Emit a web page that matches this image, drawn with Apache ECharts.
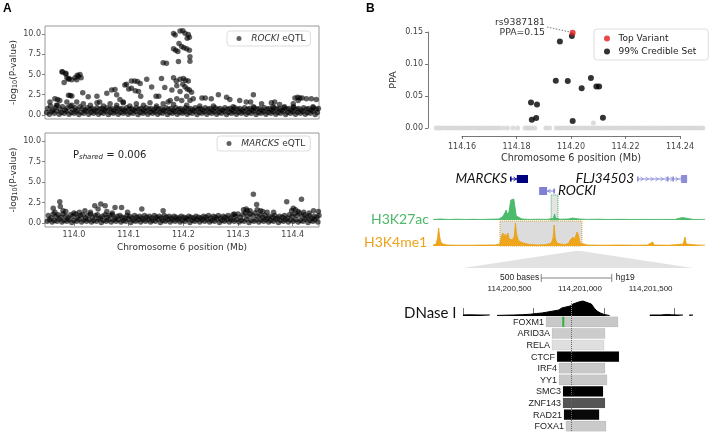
<!DOCTYPE html>
<html><head><meta charset="utf-8">
<script src="https://cdn.jsdelivr.net/npm/echarts@6/dist/echarts.min.js"></script>
<style>html,body{margin:0;padding:0;background:#fff}#c{width:709px;height:432px}</style>
</head><body><div id="c"></div>
<script>
// ================= DATA =================
// Panel A : eQTL scans, [kb offset from 113.950 Mb, -log10(P)]
const eqtlTicks = [0, 2.5, 5, 7.5, 10];
const posTicksA = [114.0, 114.1, 114.2, 114.3, 114.4];
const rockiLow = [[0,.3],[5,.1],[9,.4],[14,.2],[18,.5],[23,.1],[27,.3],[32,.2],[36,.45],[41,.1],[45,.3],[50,.2],[54,.4],[59,.05],[63,.3],[68,.2],[72,.45],[77,.1],[81,.35],[86,.2],[90,.4],[95,.1],[99,.3],[104,.2],[108,.45],[113,.05],[117,.3],[122,.2],[126,.4],[131,.1],[135,.35],[140,.2],[144,.4],[149,.1],[153,.3],[158,.2],[162,.45],[167,.05],[171,.3],[176,.2],[180,.4],[185,.1],[189,.35],[194,.2],[198,.4],[203,.1],[207,.3],[212,.2],[216,.45],[221,.05],[225,.3],[230,.2],[234,.4],[239,.1],[243,.35],[248,.2],[252,.4],[257,.1],[261,.3],[266,.2],[270,.45],[275,.05],[279,.3],[284,.2],[288,.4],[293,.1],[297,.35],[302,.2],[306,.4],[311,.1],[315,.3],[320,.2],[324,.45],[329,.05],[333,.3],[338,.2],[342,.4],[347,.1],[351,.35],[356,.2],[360,.4],[365,.1],[369,.3],[374,.2],[378,.45],[383,.05],[387,.3],[392,.2],[396,.4],[401,.1],[405,.35],[410,.2],[414,.4],[419,.1],[423,.3],[428,.2],[432,.45],[437,.05],[441,.3],[446,.2],[450,.4],[455,.1],[459,.35],[464,.2],[468,.4],[473,.1],[477,.3],[482,.2],[486,.45],[491,.05],[495,.3],[500,.2]];
const rockiMid = [[2,.8],[7,1.1],[11,.6],[16,.9],[20,1.2],[25,.7],[29,1.0],[34,.6],[38,.9],[43,1.1],[47,.7],[52,.9],[56,.6],[61,1.0],[65,.8],[70,.6],[74,.9],[79,.7],[83,.8],[88,.6],[92,.9],[97,.7],[101,.8],[106,.6],[110,.9],[115,.7],[119,.8],[124,.6],[128,.9],[133,.7],[137,.8],[142,.6],[146,.9],[151,.7],[155,.8],[160,.6],[164,.9],[169,.7],[173,.8],[178,.6],[182,.9],[187,.7],[191,.8],[196,.6],[200,.9],[205,.7],[209,.8],[214,.6],[218,.9],[223,.7],[227,.8],[232,.6],[236,.9],[241,.7],[245,.8],[250,.6],[254,.9],[259,.7],[263,.8],[268,.6],[272,.9],[277,.7],[281,.8],[286,.6],[290,.9],[295,.7],[299,.8],[304,.6],[308,.9],[313,.7],[317,.8],[322,.6],[326,.9],[331,.7],[335,.8],[340,.6],[344,.9],[349,.7],[353,.8],[358,.6],[362,.9],[367,.7],[371,.8],[376,.6],[380,.9],[385,.7],[389,.8],[394,.6],[398,.9],[403,.7],[407,.8],[412,.6],[416,.9],[421,.7],[425,.8],[430,.6],[434,.9],[439,.7],[443,.8],[448,.6],[452,.9],[457,.7],[461,.8],[466,.6],[470,.9],[475,.7],[479,.8],[484,.6],[488,.9],[493,.7],[497,.8]];
const rockiHigh = [[28,5.35],[35,5.15],[32,4.0],[37,4.6],[41,4.5],[52,4.6],[56,4.9],[61,5.0],[63,4.6],[29,5.3],[35,5.05],[40,4.4],[46,4.35],[55,4.35],[58,4.8],[40,2.45],[46,2.35],[43,2.4],[66,2.75],[15,2.0],[20,1.9],
[76,2.26],[92,2.3],[110,2.67],[119,3.08],[125,3.16],[128,2.5],[143,3.7],[146,3.8],[155,4.2],[161,4.2],[166,4.15],[171,3.9],[150,3.2],[155,3.3],[162,3.0],[168,2.9],[183,4.4],[192,3.45],[172,2.3],[134,1.9],[140,1.5],[97,1.6],
[210,4.5],[213,6.45],[219,6.4],[205,2.3],[200,2.3],[216,3.4],
[232,10.08],[235,9.9],[244,10.37],[249,10.4],[253,10.1],[259,9.95],[257,9.5],[261,9.6],
[232,8.2],[236,8.0],[240,7.85],[242,8.85],[247,8.45],[251,8.3],[256,8.2],[261,8.0],[262,7.2],[262,6.65],[241,6.6],
[232,4.6],[237,4.2],[244,4.4],[250,4.5],[254,4.3],[259,4.2],[249,3.8],[253,3.5],[257,3.2],[261,3.1],[265,2.8],[238,3.6],[229,3.1],[244,2.9],[226,1.8],[238,2.0],[247,1.8],[256,2.3],[262,1.8],[268,2.0],
[284,2.1],[290,2.1],[301,2.0],[314,2.5],[329,2.2],[335,1.9],[353,1.8],[365,1.6],[378,2.5],[373,1.6],[393,1.4],[411,1.5],[417,1.6],[426,1.3],[435,1.0],[454,2.1],[459,2.2],[463,2.1],[467,2.1],[475,2.0],[484,2.0],[493,1.9],[460,1.8],[451,1.4],
[6,1.6],[18,1.2],[24,1.8],[37,1.6],[46,1.2],[55,1.6],[67,1.4],[80,1.2],[92,1.5],[104,1.1],[116,1.4],[128,1.2],[140,1.6],[152,1.1],[164,1.4],[177,1.2],[189,1.5],[201,1.1],[213,1.4],[222,1.6],[232,1.3],[256,1.2],[280,1.1],[305,1.1],[341,1.0],[378,1.0],[414,1.0],[451,1.0],[487,1.0]];
const marcksLow = [[1,.2],[5,.4],[10,.1],[14,.3],[19,.2],[23,.45],[28,.1],[32,.3],[37,.2],[41,.4],[46,.05],[50,.3],[55,.2],[59,.45],[64,.1],[68,.35],[73,.2],[77,.4],[82,.1],[86,.3],[91,.2],[95,.45],[100,.05],[104,.3],[109,.2],[113,.4],[118,.1],[122,.35],[127,.2],[131,.4],[136,.1],[140,.3],[145,.2],[149,.45],[154,.05],[158,.3],[163,.2],[167,.4],[172,.1],[176,.35],[181,.2],[185,.4],[190,.1],[194,.3],[199,.2],[203,.45],[208,.05],[212,.3],[217,.2],[221,.4],[226,.1],[230,.35],[235,.2],[239,.4],[244,.1],[248,.3],[253,.2],[257,.45],[262,.05],[266,.3],[271,.2],[275,.4],[280,.1],[284,.35],[289,.2],[293,.4],[298,.1],[302,.3],[307,.2],[311,.45],[316,.05],[320,.3],[325,.2],[329,.4],[334,.1],[338,.35],[343,.2],[347,.4],[352,.1],[356,.3],[361,.2],[365,.45],[370,.05],[374,.3],[379,.2],[383,.4],[388,.1],[392,.35],[397,.2],[401,.4],[406,.1],[410,.3],[415,.2],[419,.45],[424,.05],[428,.3],[433,.2],[437,.4],[442,.1],[446,.35],[451,.2],[455,.4],[460,.1],[464,.3],[469,.2],[473,.45],[478,.05],[482,.3],[487,.2],[491,.4],[496,.1],[500,.3]];
const marcksMid = [[3,.9],[8,.6],[12,1.1],[17,.8],[21,1.0],[26,.7],[30,1.1],[35,.8],[39,.6],[44,1.0],[48,.8],[53,1.1],[57,.7],[62,.9],[66,1.0],[71,.6],[75,.9],[80,1.1],[84,.7],[89,.9],[93,1.0],[98,.6],[102,.8],[107,1.0],[111,.7],[116,.9],[120,1.0],[125,.6],[129,.8],[134,.9],[138,.7],[143,.6],[147,.9],[152,.8],[156,.6],[161,.9],[165,.7],[170,.8],[174,.6],[179,.9],[183,.7],[188,.8],[192,.6],[197,.9],[201,.7],[206,.8],[210,.6],[215,.9],[219,.7],[224,.8],[228,.6],[233,.8],[237,.7],[242,.6],[246,.8],[251,.7],[255,.6],[260,.8],[264,.7],[269,.6],[273,.8],[278,.7],[282,.6],[287,.8],[291,.7],[296,.9],[300,.6],[305,.8],[309,.7],[314,.9],[318,.6],[323,.8],[327,.7],[332,.9],[336,.6],[341,1.0],[345,.8],[350,1.1],[354,.7],[359,1.0],[363,1.2],[368,.8],[372,1.1],[377,.9],[381,1.2],[386,.8],[390,1.0],[395,.7],[399,.9],[404,.6],[408,.8],[413,.7],[417,.9],[422,.6],[426,.8],[431,.7],[435,.9],[440,.6],[444,1.0],[449,.8],[453,1.1],[458,.9],[462,1.2],[467,.8],[471,1.0],[476,.7],[480,.9],[485,.6],[489,.8],[494,.7],[498,.9]];
const marcksHigh = [[12,1.8],[24,2.6],[25,2.0],[30,1.5],[88,2.1],[99,2.3],[107,2.1],[94,1.7],[125,1.9],[137,1.9],[148,1.3],[174,1.7],[213,1.5],[378,3.5],[384,2.25],[439,2.6],[466,2.9],[451,1.8],[448,1.5],[367,1.5],[391,1.5],[403,1.3],[343,1.1],[415,1.3],[488,1.5],[497,1.4],[360,1.6],[365,1.7],[372,1.5],[385,1.6],[395,1.4],[15,1.3],[35,1.4],[50,1.2],[60,1.3],[70,1.5],[80,1.3],[110,1.4],[120,1.2],[455,1.6],[460,1.4],[470,1.3],[480,1.2]];
const pShared = '0.006';

// Panel B : fine-mapping, [Mb, PPA]
const ppaTicks = [0, 0.05, 0.10, 0.15];
const posTicksB = [114.16, 114.18, 114.20, 114.22, 114.24];
const topVariant = [[114.2006, 0.149]];
const topVariantName = 'rs9387181';
const credibleSet = [[114.2003,0.1438],[114.1959,0.135],[114.1944,0.074],[114.1988,0.0734],[114.2073,0.078],[114.2039,0.062],[114.2093,0.065],[114.2103,0.065],[114.1853,0.0397],[114.1875,0.0366],[114.1856,0.013],[114.1872,0.0157],[114.2006,0.011],[114.2117,0.0162]];
const otherVariantPos = [114.1505,114.1516,114.1526,114.1538,114.1549,114.1559,114.1571,114.1582,114.1592,114.1604,114.1615,114.1626,114.1636,114.1648,114.1659,114.1669,114.1681,114.1692,114.1703,114.1714,114.1725,114.1737,114.1752,114.1767,114.1787,114.1804,114.1831,114.1840,114.1849,114.1858,114.1867,114.1908,114.1921,114.1946,114.1957,114.1967,114.1979,114.1990,114.2001,114.2012,114.2022,114.2034,114.2045,114.2056,114.2066,114.2078,114.2089,114.2100,114.2110,114.2122,114.2133,114.2144,114.2154,114.2166,114.2177,114.2188,114.2198,114.2210,114.2221,114.2232,114.2242,114.2253,114.2264,114.2275,114.2286,114.2297,114.2308,114.2319,114.2330,114.2341,114.2352,114.2362,114.2374,114.2384,114.2395,114.2406,114.2417,114.2428,114.2439,114.2450,114.2461,114.2472,114.2484];
const otherVariantPPA = [[114.2082, 0.0078]];

// Genes (Mb)
const geneNames  = ['MARCKS', 'FLJ34503', 'ROCKI'];
const geneStart  = [114.1776, 114.2242, 114.1883];
const geneEnd    = [114.1842, 114.2426, 114.1941];
const geneRow    = [0, 0, 1];
const geneStrand = ['+', '+', '-'];
const geneExons  = [ // [start, end, coding]
  [[114.1776,114.1781,0],[114.1801,114.1842,1]],
  [[114.2242,114.2245,0],[114.2352,114.2355,0],[114.2372,114.2375,0],[114.2404,114.2426,1]],
  [[114.1883,114.1912,1],[114.1935,114.1938,0]]
];
// Histone tracks [Mb, signal]
const h3k27ac = [[114.1494,0.5],[114.152,1],[114.155,0.5],[114.158,0.8],[114.161,0.5],[114.164,0.7],[114.167,0.5],[114.170,0.8],[114.1735,1],[114.1748,3],[114.1755,6],[114.1762,10],[114.1768,5],[114.1772,8],[114.1776,6],[114.1779,20],[114.1784,22],[114.1790,21],[114.1796,22],[114.1799,4],[114.1805,2],[114.182,1],[114.185,0.6],[114.188,0.8],[114.191,0.6],[114.1935,1.5],[114.1940,6],[114.1943,2],[114.196,0.8],[114.199,1],[114.2005,2],[114.2015,1.5],[114.203,1],[114.206,0.6],[114.210,0.8],[114.214,0.5],[114.218,0.7],[114.222,0.5],[114.226,0.6],[114.230,0.5],[114.234,0.6],[114.238,0.5],[114.2408,2.5],[114.2412,0.6],[114.245,0.5],[114.2492,0.6]];
const h3k4me1 = [[114.1494,1],[114.1505,2],[114.1510,8],[114.1514,18],[114.1518,9],[114.1522,4],[114.1530,2],[114.1545,1],[114.158,0.8],[114.163,0.8],[114.168,1],[114.172,1],[114.1739,2],[114.1745,10],[114.1750,13],[114.1754,8],[114.1758,12],[114.1763,9],[114.1768,13],[114.1773,7],[114.1778,9],[114.1785,6],[114.1792,10],[114.1796,23],[114.1800,12],[114.1806,6],[114.1815,4],[114.1830,2.5],[114.1850,1.5],[114.1880,1],[114.1910,1.5],[114.1928,3],[114.1934,8],[114.1938,21],[114.1942,8],[114.1948,3],[114.1960,2],[114.1980,1.5],[114.1992,3],[114.1997,6],[114.2002,4],[114.2007,9],[114.2012,6],[114.2017,10],[114.2022,14],[114.2027,11],[114.2033,3],[114.2040,1.5],[114.206,1],[114.212,0.8],[114.218,1],[114.224,0.8],[114.228,1],[114.2300,4],[114.2305,1],[114.236,0.8],[114.2412,2],[114.2418,9],[114.2423,2],[114.2460,1],[114.2492,0.8]];
const enhancerRegion = [114.1739, 114.2040];
const rockiPromoter = [114.1927, 114.1952];

// Zoomed region (chr6 bases)
const zoomStart = 114200000, zoomEnd = 114201631;
const zoomTicks = [114200000, 114200500, 114201000, 114201500];
const zoomLabels = [114200500, 114201000, 114201500];
const variantBase = 114200766;
const dnase = [[114200000,1],[114200040,1.2],[114200120,1],[114200190,1],[114200191,'-'],[114200240,'-'],[114200241,0.6],[114200300,0.8],[114200360,1],[114200420,1.3],[114200480,1.8],[114200520,2.5],[114200560,3],[114200600,4],[114200640,5],[114200680,6],[114200700,8],[114200730,9],[114200760,10],[114200780,12],[114200800,13],[114200820,14],[114200850,15],[114200870,14],[114200890,13],[114200910,12],[114200930,8],[114200950,5],[114200975,3],[114201000,1.5],[114201040,0.5],[114201041,'-'],[114201320,'-'],[114201325,1],[114201400,1],[114201450,1.5],[114201480,1.2],[114201520,1],[114201560,1],[114201561,'-'],[114201600,'-'],[114201605,1],[114201631,1]];
const tfNames = ['FOXM1','ARID3A','RELA','CTCF','IRF4','YY1','SMC3','ZNF143','RAD21','FOXA1'];
const tfStart = [114200589,114200631,114200631,114200667,114200681,114200681,114200709,114200709,114200716,114200730];
const tfEnd   = [114201099,114201007,114201000,114201106,114201007,114201021,114200993,114201007,114200965,114201014];
const tfScore = [150,130,50,1000,150,150,1000,640,960,140];
const foxm1Motif = [114200704, 114200718];

// ================= CHART =================
const F = 'DejaVu Sans';
const U = 'Lato';
const chart = echarts.init(document.getElementById('c'));
const toA = p => [113.95 + p[0] / 1000, p[1]];
const rockiData = rockiLow.concat(rockiMid, rockiHigh).map(toA);
const marcksData = marcksLow.concat(marcksMid, marcksHigh).map(toA);
const otherData = otherVariantPos.map(x => [x, 0]).concat(otherVariantPPA);

const GENE_COL = ['#00007f', '#8c8cd8', '#7f7fd4'];
const GENE_LABEL_SIDE = ['left', 'left', 'right'];

function renderGene(params, api) {
  const i = params.dataIndex;
  const yc = api.coord([geneStart[i], geneRow[i] + 0.5])[1];
  const xs = api.coord([geneStart[i], 0])[0], xe = api.coord([geneEnd[i], 0])[0];
  const col = GENE_COL[i];
  const ch = [{type: 'line', shape: {x1: xs, y1: yc, x2: xe, y2: yc}, style: {stroke: col, lineWidth: 1}}];
  const d = geneStrand[i] === '+' ? 1 : -1;
  for (let x = xs + 5; x < xe - 3; x += 5) {
    ch.push({type: 'polyline', shape: {points: [[x - 1.5 * d, yc - 2], [x + 1.5 * d, yc], [x - 1.5 * d, yc + 2]]}, style: {stroke: col, fill: null, lineWidth: 0.8}});
  }
  geneExons[i].forEach(e => {
    const a = api.coord([e[0], 0])[0], b = api.coord([e[1], 0])[0];
    const h = e[2] ? 8 : 5;
    ch.push({type: 'rect', shape: {x: a, y: yc - h / 2, width: Math.max(1.6, b - a), height: h}, style: {fill: col}});
  });
  const left = GENE_LABEL_SIDE[i] === 'left';
  ch.push({type: 'text', style: {text: geneNames[i], x: left ? xs - 3 : xe + 3, y: yc, align: left ? 'right' : 'left', verticalAlign: 'middle', fontFamily: U, fontStyle: 'italic', fontSize: 13.5, fill: '#111'}});
  return {type: 'group', children: ch};
}

function renderTF(params, api) {
  const i = params.dataIndex;
  const p0 = api.coord([tfStart[i], i + 0.5]);
  const p1 = api.coord([tfEnd[i], i + 0.5]);
  const h = Math.abs(api.size([0, 1])[1]) * 0.88;
  const g = Math.round(235 * (1 - tfScore[i] / 1000));
  const ch = [
    {type: 'rect', shape: {x: p0[0], y: p0[1] - h / 2, width: p1[0] - p0[0], height: h}, style: {fill: 'rgb(' + g + ',' + g + ',' + g + ')', stroke: 'rgba(0,0,0,0.12)', lineWidth: 0.5}},
    {type: 'text', style: {text: tfNames[i], x: p0[0] - 2, y: p0[1] + 0.5, align: 'right', verticalAlign: 'middle', fontFamily: 'Liberation Sans', fontSize: 9, fill: '#222'}}
  ];
  if (i === 0) {
    const m0 = api.coord([foxm1Motif[0], 0.5])[0], m1 = api.coord([foxm1Motif[1], 0.5])[0];
    ch.push({type: 'rect', shape: {x: m0, y: p0[1] - h / 2, width: Math.max(2, m1 - m0), height: h}, style: {fill: '#2fb040'}});
  }
  return {type: 'group', children: ch};
}

const tickStyleA = {color: '#666', width: 0.8};
const yA = (gi) => ({gridIndex: gi, type: 'value', min: -0.5, max: 11,
  axisLine: {show: false}, splitLine: {show: false},
  axisTick: {show: true, length: 3, customValues: eqtlTicks, lineStyle: tickStyleA},
  axisLabel: {customValues: eqtlTicks, formatter: v => v.toFixed(1), fontSize: 8, color: '#444', margin: 4, fontFamily: F},
  name: '{n|-log}{s|10}{n|(P-value)}', nameLocation: 'middle', nameRotate: 90, nameGap: 25,
  nameTextStyle: {rich: {n: {fontSize: 9, fontFamily: F, color: '#333'}, s: {fontSize: 6.5, fontFamily: F, color: '#333', padding: [4, 0, 0, 0]}}}
});
const hidX = (gi, min, max) => ({gridIndex: gi, type: 'value', min: min, max: max, show: false});
const hidYv = (gi, min, max, inv) => ({gridIndex: gi, type: 'value', min: min, max: max, show: false, inverse: !!inv});
const legendA = (left, top, name) => ({left: left, top: top, data: [name], icon: 'circle', itemWidth: 14.5, itemHeight: 5, padding: [3, 5, 3, 9.5],
  borderColor: '#ddd', borderWidth: 1, borderRadius: 3, backgroundColor: '#fff', selectedMode: false,
  formatter: n => '{i|' + n.split(' ')[0] + '} eQTL',
  textStyle: {fontSize: 9, color: '#333', fontFamily: F, rich: {i: {fontSize: 9, fontStyle: 'italic', color: '#333', fontFamily: F}}}});

chart.setOption({
  animation: false,
  backgroundColor: '#fff',
  grid: [
    {left: 45, top: 26, width: 274, height: 93, show: true, borderColor: '#999', borderWidth: 1},
    {left: 45, top: 133, width: 274, height: 94, show: true, borderColor: '#999', borderWidth: 1},
    {left: 428, top: 32, width: 279, height: 96},
    {left: 462, top: 135, width: 218, height: 1},
    {left: 428, top: 173, width: 279, height: 24},
    {left: 428, top: 195, width: 279, height: 25},
    {left: 428, top: 221, width: 279, height: 25},
    {left: 463, top: 293, width: 230, height: 23},
    {left: 463, top: 316, width: 230, height: 116}
  ],
  xAxis: [
    hidX(0, 113.947, 114.448),
    {gridIndex: 1, type: 'value', min: 113.947, max: 114.448, axisLine: {show: false}, splitLine: {show: false},
      axisTick: {show: true, length: 3, customValues: posTicksA, lineStyle: tickStyleA},
      axisLabel: {customValues: posTicksA, formatter: v => v.toFixed(1), fontSize: 8, color: '#444', margin: 4, fontFamily: F},
      name: 'Chromosome 6 position (Mb)', nameLocation: 'middle', nameGap: 16, nameTextStyle: {fontSize: 9, color: '#333', fontFamily: F}},
    hidX(2, 114.1475, 114.2499),
    {gridIndex: 3, type: 'value', min: 114.16, max: 114.24, axisLine: {show: true, lineStyle: {color: '#555', width: 0.8}}, splitLine: {show: false},
      axisTick: {show: true, length: 3, customValues: posTicksB, lineStyle: {color: '#555', width: 0.8}},
      axisLabel: {customValues: posTicksB, formatter: v => v.toFixed(2), fontSize: 8, color: '#444', margin: 7, fontFamily: F},
      name: 'Chromosome 6 position (Mb)', nameLocation: 'middle', nameGap: 17, nameTextStyle: {fontSize: 9.7, color: '#333', fontFamily: F}},
    hidX(4, 114.1475, 114.2499),
    hidX(5, 114.1475, 114.2499),
    hidX(6, 114.1475, 114.2499),
    {gridIndex: 7, type: 'value', position: 'top', min: zoomStart, max: zoomEnd, axisLine: {show: false}, splitLine: {show: false},
      axisTick: {show: true, inside: false, length: 8, customValues: zoomTicks, lineStyle: {color: '#555', width: 0.8}},
      axisLabel: {customValues: zoomLabels, formatter: v => v.toLocaleString('en-US'), align: 'right', verticalAlign: 'bottom', padding: [0, 2, 0, 0], margin: 0, fontSize: 8, color: '#222', fontFamily: 'Liberation Sans'}},
    hidX(8, zoomStart, zoomEnd)
  ],
  yAxis: [
    yA(0), yA(1),
    {gridIndex: 2, type: 'value', min: 0, max: 0.15, axisLine: {show: true, lineStyle: {color: '#555', width: 0.8}}, splitLine: {show: false},
      axisTick: {show: true, length: 3, customValues: ppaTicks, lineStyle: {color: '#555', width: 0.8}},
      axisLabel: {customValues: ppaTicks, formatter: v => v.toFixed(2), fontSize: 8, color: '#444', margin: 5, fontFamily: F},
      name: 'PPA', nameLocation: 'middle', nameRotate: 90, nameGap: 29, nameTextStyle: {fontSize: 9.5, color: '#333', fontFamily: F}},
    hidYv(3, 0, 1),
    hidYv(4, 0, 2, true),
    hidYv(5, 0, 25),
    hidYv(6, 0, 25),
    hidYv(7, 0, 23),
    hidYv(8, 0, 10, true)
  ],
  legend: [
    legendA(227, 31, 'ROCKI eQTL'),
    legendA(217, 136, 'MARCKS eQTL'),
    {left: 594, top: 29, orient: 'vertical', data: ['Top Variant', '99% Credible Set'], icon: 'circle', itemWidth: 13, itemHeight: 6, itemGap: 2,
      padding: [4, 12, 3, 10], borderColor: '#ddd', borderWidth: 1, borderRadius: 3, backgroundColor: '#fff', selectedMode: false,
      textStyle: {fontSize: 9, color: '#222', fontFamily: F, lineHeight: 11}}
  ],
  series: [
    {name: 'ROCKI eQTL', type: 'scatter', xAxisIndex: 0, yAxisIndex: 0, data: rockiData, symbolSize: 5.5, itemStyle: {color: 'rgba(0,0,0,0.78)'}},
    {name: 'MARCKS eQTL', type: 'scatter', xAxisIndex: 1, yAxisIndex: 1, data: marcksData, symbolSize: 5.5, itemStyle: {color: 'rgba(0,0,0,0.78)'}},
    {name: 'other', type: 'scatter', xAxisIndex: 2, yAxisIndex: 2, data: otherData, symbolSize: 5, clip: false, itemStyle: {color: '#d3d3d3'}, z: 1},
    {name: '99% Credible Set', type: 'scatter', xAxisIndex: 2, yAxisIndex: 2, data: credibleSet, symbolSize: 6, clip: false, itemStyle: {color: '#000'}, z: 3},
    {name: 'Top Variant', type: 'scatter', xAxisIndex: 2, yAxisIndex: 2, data: topVariant, symbolSize: 6, clip: false, itemStyle: {color: '#e41a1c'}, z: 4},
    {name: 'genes', type: 'custom', xAxisIndex: 4, yAxisIndex: 4, renderItem: renderGene, clip: false,
      data: geneNames.map((n, i) => [geneStart[i], geneRow[i] + 0.5])},
    {name: 'promoterBox', type: 'line', xAxisIndex: 5, yAxisIndex: 5, data: [], z: 1,
      markArea: {silent: true, itemStyle: {color: '#e4e4e4', borderColor: '#3db060', borderType: 'dotted', borderWidth: 1},
        data: [[{xAxis: rockiPromoter[0], yAxis: 0}, {xAxis: rockiPromoter[1], yAxis: 25}]]}},
    {name: 'H3K27ac', type: 'line', xAxisIndex: 5, yAxisIndex: 5, data: h3k27ac, symbol: 'none', z: 2,
      lineStyle: {color: '#3fb565', width: 0.8}, areaStyle: {color: '#4cbb6c', opacity: 1}},
    {name: 'enhancerBox', type: 'line', xAxisIndex: 6, yAxisIndex: 6, data: [], z: 1,
      markArea: {silent: true, itemStyle: {color: '#dcdcdc', borderColor: '#e0a030', borderType: 'dotted', borderWidth: 1},
        data: [[{xAxis: enhancerRegion[0], yAxis: 0}, {xAxis: enhancerRegion[1], yAxis: 25}]]}},
    {name: 'H3K4me1', type: 'line', xAxisIndex: 6, yAxisIndex: 6, data: h3k4me1, symbol: 'none', z: 2,
      lineStyle: {color: '#e8a010', width: 0.8}, areaStyle: {color: '#efa51c', opacity: 1}},
    {name: 'DNase I', type: 'line', xAxisIndex: 7, yAxisIndex: 7, data: dnase, symbol: 'none', connectNulls: false,
      lineStyle: {color: '#000', width: 1}, areaStyle: {color: '#000', opacity: 1},
      markLine: {silent: true, symbol: 'none', label: {show: false}, lineStyle: {type: 'dotted', color: '#999', width: 1},
        data: [[{coord: [variantBase, 0]}, {coord: [variantBase, 15]}]]}},
    {name: 'TF', type: 'custom', xAxisIndex: 8, yAxisIndex: 8, renderItem: renderTF, clip: false,
      data: tfNames.map((n, i) => [tfStart[i], i + 0.5])},
    {name: 'variantLine', type: 'line', xAxisIndex: 8, yAxisIndex: 8, data: [], z: 5,
      markLine: {silent: true, symbol: 'none', label: {show: false}, lineStyle: {type: 'dotted', color: '#666', width: 1},
        data: [[{coord: [variantBase, 0]}, {coord: [variantBase, 10]}]]}}
  ]
});

// decorations that depend on pixel positions
const sb0 = chart.convertToPixel({xAxisIndex: 7}, 114200555);
const sb1 = chart.convertToPixel({xAxisIndex: 7}, 114200555 + 500);
const tv = chart.convertToPixel({xAxisIndex: 2, yAxisIndex: 2}, topVariant[0]);
chart.setOption({
  graphic: [
    {type: 'text', left: 3, top: 3, style: {text: 'A', fontFamily: 'Liberation Sans', fontWeight: 'bold', fontSize: 12, fill: '#000'}},
    {type: 'text', left: 366, top: 3, style: {text: 'B', fontFamily: 'Liberation Sans', fontWeight: 'bold', fontSize: 12, fill: '#000'}},
    {type: 'text', x: 73, y: 155, style: {text: '{n|P}{s|shared}{n| = ' + pShared + '}', verticalAlign: 'middle',
      rich: {n: {fontSize: 10, fontFamily: F, fill: '#222'}, s: {fontSize: 7, fontStyle: 'italic', fontFamily: F, fill: '#222', padding: [5, 0, 0, 0]}}}},
    {type: 'text', x: 545, y: 23, style: {text: topVariantName, align: 'right', verticalAlign: 'middle', fontSize: 9.3, fontFamily: F, fill: '#333'}},
    {type: 'text', x: 545, y: 33, style: {text: 'PPA=' + topVariant[0][1].toFixed(2), align: 'right', verticalAlign: 'middle', fontSize: 9.3, fontFamily: F, fill: '#333'}},
    {type: 'line', shape: {x1: 547, y1: 27, x2: tv[0], y2: tv[1]}, style: {stroke: '#555', lineWidth: 0.8, lineDash: [1.5, 1.5]}},
    {type: 'text', x: 371, y: 219, style: {text: 'H3K27ac', verticalAlign: 'middle', fontSize: 14, fontFamily: U, fill: '#4cb86a'}},
    {type: 'text', x: 364, y: 242, style: {text: 'H3K4me1', verticalAlign: 'middle', fontSize: 14, fontFamily: U, fill: '#eca31c'}},
    {type: 'text', x: 404, y: 313, style: {text: 'DNase I', verticalAlign: 'middle', fontSize: 15, fontFamily: U, fill: '#111'}},
    {type: 'polygon', z: -1, shape: {points: [[575, 251], [581, 251], [693, 268], [463, 268]]}, style: {fill: '#e2e2e2'}},
    {type: 'line', shape: {x1: sb0, y1: 278, x2: sb1, y2: 278}, style: {stroke: '#666', lineWidth: 0.8}},
    {type: 'line', shape: {x1: sb0, y1: 274, x2: sb0, y2: 282}, style: {stroke: '#666', lineWidth: 0.8}},
    {type: 'line', shape: {x1: sb1, y1: 274, x2: sb1, y2: 282}, style: {stroke: '#666', lineWidth: 0.8}},
    {type: 'text', x: sb0 - 2, y: 278, style: {text: '500 bases', align: 'right', verticalAlign: 'middle', fontSize: 8.5, fontFamily: 'Liberation Sans', fill: '#222'}},
    {type: 'text', x: sb1 + 4, y: 278, style: {text: 'hg19', align: 'left', verticalAlign: 'middle', fontSize: 8.5, fontFamily: 'Liberation Sans', fill: '#222'}}
  ]
});
</script>
</body></html>
